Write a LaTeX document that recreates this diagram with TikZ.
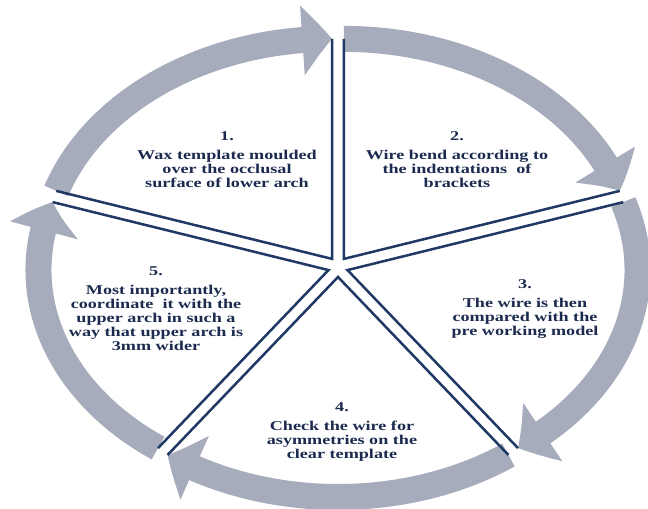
\documentclass[tikz,border=0pt]{standalone}
\usepackage{fontspec}
\setmainfont{Liberation Serif}
\usetikzlibrary{arrows.meta,bending,calc}
\definecolor{navy}{RGB}{31,56,100}
\definecolor{ink}{RGB}{27,42,78}
\definecolor{bandgray}{RGB}{166,172,187}
\begin{document}
\begin{tikzpicture}[x=1bp, y=1bp,
  edge/.style={navy, line width=2.5bp},
  band/.style={bandgray, line width=26bp, -{Triangle[width=68bp,length=30bp,bend]}},
  every node/.append style={font=\fontsize{13.5}{14}\selectfont\bfseries, text=ink, align=center, xscale=1.35}]
  \fill[white] (0,0) rectangle (648,509);
  \useasboundingbox (0,0) rectangle (648,509);
  \coordinate (c) at (338,242);
  % wedge 1
  \coordinate (t1) at ($(c)+(126:10)$); \coordinate (s1) at ($(t1)+(162:290 and 220)$); \coordinate (e1) at ($(t1)+(90:290 and 220)$);
  \draw[band] (s1) arc[start angle=162, end angle=90, x radius=290, y radius=220];
  \draw[edge] (s1) -- (t1) -- (e1);
  % wedge 2
  \coordinate (t2) at ($(c)+(54:10)$); \coordinate (s2) at ($(t2)+(90:290 and 220)$); \coordinate (e2) at ($(t2)+(18:290 and 220)$);
  \draw[band] (s2) arc[start angle=90, end angle=18, x radius=290, y radius=220];
  \draw[edge] (s2) -- (t2) -- (e2);
  % wedge 3
  \coordinate (t3) at ($(c)+(-18:10)$); \coordinate (s3) at ($(t3)+(18:290 and 220)$); \coordinate (e3) at ($(t3)+(-54:290 and 220)$);
  \draw[band] (s3) arc[start angle=18, end angle=-54, x radius=290, y radius=220];
  \draw[edge] (s3) -- (t3) -- (e3);
  % wedge 4
  \coordinate (t4) at ($(c)+(-90:10)$); \coordinate (s4) at ($(t4)+(-54:290 and 220)$); \coordinate (e4) at ($(t4)+(-126:290 and 220)$);
  \draw[band] (s4) arc[start angle=-54, end angle=-126, x radius=290, y radius=220];
  \draw[edge] (s4) -- (t4) -- (e4);
  % wedge 5
  \coordinate (t5) at ($(c)+(-162:10)$); \coordinate (s5) at ($(t5)+(-126:290 and 220)$); \coordinate (e5) at ($(t5)+(162:290 and 220)$);
  \draw[band] (s5) arc[start angle=-126, end angle=-198, x radius=290, y radius=220];
  \draw[edge] (s5) -- (t5) -- (e5);
  % texts
  \node (step1) at (227,349) {1.\\[5bp]Wax template moulded\\over the occlusal\\surface of lower arch};
  \node (step2) at (457,349) {2.\\[5bp]Wire bend according to\\the indentations~ of\\brackets};
  \node (step3) at (525,200) {3.\\[5bp]The wire is then\\compared with the\\pre working model};
  \node (step4) at (342,77) {4.\\[5bp]Check the wire for\\asymmetries on the\\clear template};
  \node (step5) at (156,200) {5.\\[5bp]Most importantly,\\coordinate~ it with the\\upper arch in such a\\way that upper arch is\\3mm wider};
\end{tikzpicture}
\end{document}
